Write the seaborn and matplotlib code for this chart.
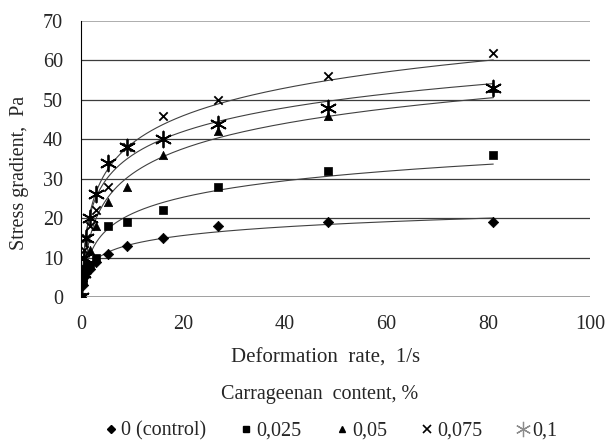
#!/usr/bin/env python3

""" Flow curves of samples with different carrageenan content
"""

import numpy as np
import pandas as pd
import seaborn as sns
import matplotlib
matplotlib.use("Agg")
import matplotlib.pyplot as plt
from matplotlib.lines import Line2D

#########################################################
### Data ###
#########################################################

# Shear (deformation) rates, 1/s
rate = [0, 0.333, 0.6, 1.0, 1.8, 3.0, 5.4, 9.0, 16.2, 27.0, 48.6, 81.0]

# Stress values, Pa, one list per carrageenan content
stress_0 = [0, 3, 5, 6, 7, 9, 11, 13, 15, 18, 19, 19]
stress_0025 = [0, 4, 6, 7, 8, 10, 18, 19, 22, 28, 32, 36]
stress_005 = [0, 5, 6, 8, 12, 18, 24, 28, 36, 42, 46, 53]
stress_0075 = [0, 10, 12, 15, 18, 22, 28, 38, 46, 50, 56, 62]
stress_01 = [0, 6, 10, 15, 20, 26, 34, 38, 40, 44, 48, 53]

labels = ["0 (control)", "0,025", "0,05", "0,075", "0,1"]
series = [stress_0, stress_0025, stress_005, stress_0075, stress_01]

# Marker style per series
markers = ["D", "s", "^", "x", (6, 2, 0)]
msizes = [28, 26, 36, 36, 130]

#########################################################
### Figure ###
#########################################################

sns.set_style("white")
plt.rcParams["font.family"] = ["Liberation Serif", "DejaVu Serif"]
FS = 14.5

fig = plt.figure(figsize=(6.06, 4.43), dpi=100, facecolor="w")
ax = fig.add_axes([81 / 606, 1 - 297 / 443, 509 / 606, 276 / 443])

# Horizontal gridlines
for yv in range(10, 70, 10):
    ax.axhline(yv, color="#3c3c3c", lw=0.9, zorder=0)
ax.axhline(70, color="#a0a0a0", lw=1.2, zorder=0)
ax.axhline(0, color="#909090", lw=1.2, zorder=0)

x = np.array(rate)
for lab, ys, mk, ms in zip(labels, series, markers, msizes):
    y = np.array(ys, dtype=float)
    # Logarithmic trendline fitted on the points with positive rate
    keep = x > 0
    a, b = np.polyfit(np.log(x[keep]), y[keep], 1)
    x_start = np.exp(-b / a)
    xs = np.geomspace(x_start, 81, 400)
    trend = pd.DataFrame({"x": xs, "y": a * np.log(xs) + b})
    sns.lineplot(data=trend, x="x", y="y", color="#404040", lw=0.8, ax=ax, zorder=2)
    filled = mk in ("D", "s", "^")
    sns.scatterplot(x=x, y=y, marker=mk, s=ms, color="black",
                    edgecolor="black" if filled else None,
                    linewidth=0.5 if filled else 1.3,
                    ax=ax, zorder=3)

ax.set_xlim(0, 100)
ax.set_ylim(0, 70)
ax.set_xticks(range(0, 101, 20))
ax.set_yticks(range(0, 71, 10))
ax.tick_params(axis="y", direction="out", length=7, width=0.8, color="black",
               labelsize=FS, pad=6)
ax.tick_params(axis="x", direction="out", length=7, width=0.8, color="black",
               labelsize=FS, pad=6)

for side in ["top", "right", "bottom"]:
    ax.spines[side].set_visible(False)
ax.spines["left"].set_color("black")
ax.spines["left"].set_linewidth(0.8)

ax.set_xlabel("")
ax.set_ylabel("Stress gradient,  Pa", fontsize=FS)
ax.yaxis.set_label_coords(-0.103, 0.45)

fig.text(0.538, 1 - 358 / 443, "Deformation  rate,  1/s", ha="center", va="center", fontsize=15)
fig.text(0.528, 1 - 395 / 443, "Carrageenan  content, %", ha="center", va="center", fontsize=FS)

# Legend along the bottom
handles = []
for lab, mk in zip(labels, markers):
    if lab == "0,1":
        h = Line2D([], [], ls="none", marker=mk, color="#8c8c8c",
                   markersize=11, markeredgewidth=0.9)
    elif mk == "x":
        h = Line2D([], [], ls="none", marker=mk, color="black",
                   markersize=6, markeredgewidth=1.2)
    else:
        h = Line2D([], [], ls="none", marker=mk, color="black", markersize=4.5)
    handles.append(h)
fig.legend(handles, labels, loc="center", bbox_to_anchor=(0.545, 1 - 431 / 443), ncol=5,
           frameon=False, fontsize=FS, handletextpad=0.1, columnspacing=1.6,
           handlelength=0.8, borderpad=0, borderaxespad=0)

plt.savefig("out.png", dpi=100, facecolor="w")
